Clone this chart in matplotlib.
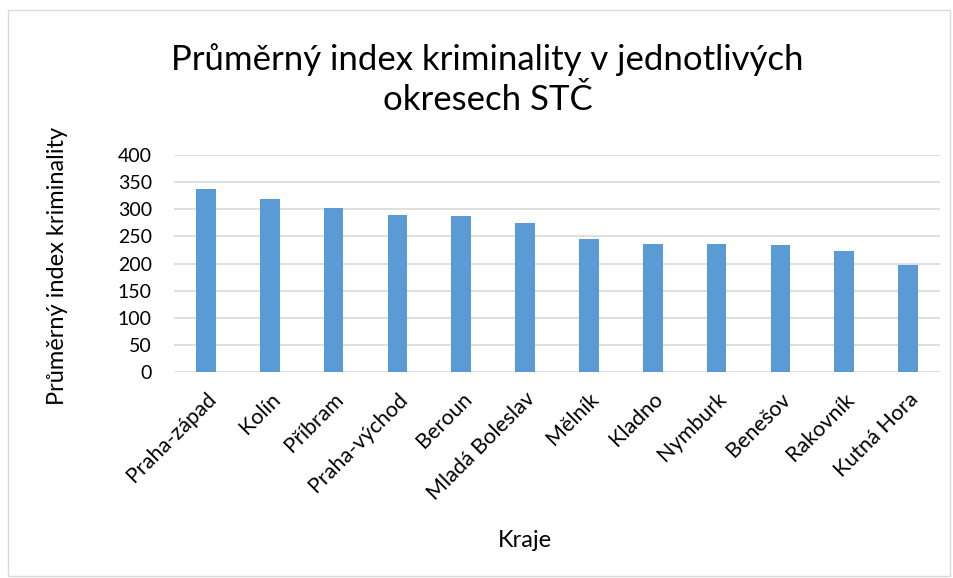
import matplotlib
matplotlib.use("Agg")
import matplotlib.pyplot as plt
from matplotlib.patches import Rectangle

categories = ["Praha-západ", "Kolín", "Příbram", "Praha-východ", "Beroun",
              "Mladá Boleslav", "Mělník", "Kladno", "Nymburk", "Benešov",
              "Rakovník", "Kutná Hora"]
values = [337, 319, 303, 289, 287, 275, 246, 236, 236, 234, 223, 198]
yticks = [0, 50, 100, 150, 200, 250, 300, 350, 400]

plt.rcParams['font.family'] = ['Lato', 'DejaVu Sans']

fig = plt.figure(figsize=(9.54, 5.78), dpi=100)
ax = fig.add_axes([0.1824, 0.356, 0.8029, 0.3758])

x = list(range(len(categories)))
ax.bar(x, values, width=0.31, color="#5B9BD5", zorder=3)
ax.set_xlim(-0.5, len(categories) - 0.5)
ax.set_ylim(0, 400)
ax.set_yticks(yticks)
ax.set_yticklabels([str(t) for t in yticks], fontsize=14)
ax.set_xticks(x)
ax.set_xticklabels(categories, rotation=45, ha='right', rotation_mode='anchor', fontsize=15.5)
ax.tick_params(axis='y', length=0, pad=16)
ax.tick_params(axis='x', length=0, pad=12)
ax.grid(axis='y', color="#D9D9D9", linewidth=1.2, zorder=0)
for s in ax.spines.values():
    s.set_visible(False)

ax.set_ylabel("Průměrný index kriminality", fontsize=17)
ax.yaxis.set_label_coords(-0.139, 0.49)
ax.set_xlabel("Kraje", fontsize=17)
ax.xaxis.set_label_coords(0.458, -0.725)

fig.text(0.511, 0.863, "Průměrný index kriminality v jednotlivých\nokresech STČ",
         ha='center', va='center', fontsize=25, linespacing=1.3)

fig.patches.append(Rectangle((8/954, 1 - 576/578), 942/954, 566/578,
                             transform=fig.transFigure, fill=False,
                             edgecolor="#D9D9D9", linewidth=1))

fig.savefig("out.png", dpi=100)
